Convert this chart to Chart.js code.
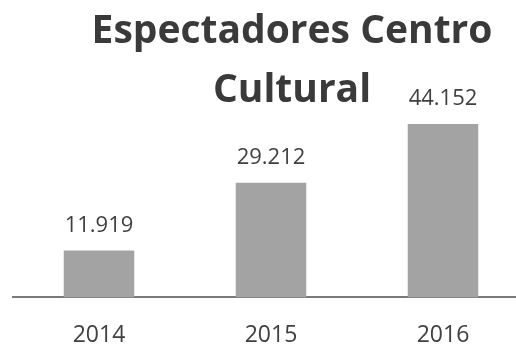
<!DOCTYPE html>
<html>
  <head>
    <title>Espectadores Centro Cultural</title>
    <script src="https://cdn.jsdelivr.net/npm/chart.js"></script>
    <style>
      html, body { margin: 0; padding: 0; background: #fff; overflow: hidden; }
      #wrap { position: absolute; left: 0; top: 0; width: 530px; height: 373px; overflow: hidden; }
      #titulo {
        position: absolute; left: 62px; top: -2px; width: 460px;
        text-align: center; font-family: 'Open Sans', sans-serif; font-weight: bold;
        font-size: 39px; line-height: 59px; color: #3a3a3a;
      }
    </style>
  </head>
  <body>
    <div id="wrap">
      <canvas id="espectadoresChart" width="530" height="373"></canvas>
    </div>
    <div id="titulo">Espectadores Centro<br>Cultural</div>

    <script>
      // Espectadores por año
      var anios = ['2014', '2015', '2016'];
      var espectadores = [11919, 29212, 44152];

      // 44152 -> "44.152"
      function formatoMiles(v) {
        return String(v).replace(/\B(?=(\d{3})+(?!\d))/g, '.');
      }

      // Escribe el valor encima de cada barra
      var etiquetasValor = {
        id: 'etiquetasValor',
        afterDatasetsDraw: function (chart) {
          var ctx = chart.ctx;
          var meta = chart.getDatasetMeta(0);
          ctx.save();
          ctx.font = '22px "Open Sans"';
          ctx.fillStyle = '#404040';
          ctx.textAlign = 'center';
          ctx.textBaseline = 'alphabetic';
          meta.data.forEach(function (bar, i) {
            ctx.fillText(formatoMiles(chart.data.datasets[0].data[i]), bar.x, bar.y - 19);
          });
          ctx.restore();
        }
      };

      var ctx = document.getElementById('espectadoresChart').getContext('2d');
      var espectadoresChart = new Chart(ctx, {
        type: 'bar',
        data: {
          labels: anios,
          datasets: [
            {
              label: 'Espectadores',
              data: espectadores,
              backgroundColor: '#a3a3a3',
              barPercentage: 0.41,
              categoryPercentage: 1,
            },
          ],
        },
        options: {
          responsive: false,
          animation: false,
          layout: { padding: { top: 101, left: 13, right: 1, bottom: 0 } },
          plugins: {
            legend: { display: false },
            tooltip: { enabled: false },
          },
          scales: {
            x: {
              grid: { display: false, drawTicks: false },
              border: { color: '#7a7a7a', width: 2 },
              ticks: {
                color: '#404040',
                padding: 24,
                font: { family: 'Open Sans', size: 23 },
              },
            },
            y: {
              display: false,
              min: 0,
              max: 50000,
            },
          },
        },
        plugins: [etiquetasValor],
      });
    </script>
  </body>
</html>
